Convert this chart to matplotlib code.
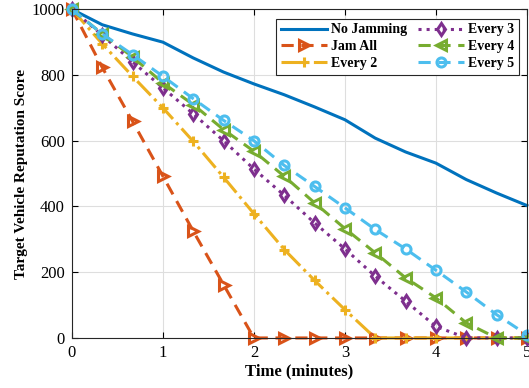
import numpy as np
import matplotlib
matplotlib.use("Agg")
import matplotlib.pyplot as plt

plt.rcParams['font.family'] = ['Liberation Serif', 'DejaVu Serif']

# Time samples, every 20 seconds
time_min = np.arange(16) / 3.0

no_jamming = [1000, 953, 925, 900, 852, 809, 773, 740, 703, 664, 608, 566, 532, 482, 441, 403]
jam_all = [1000, 823, 659, 492, 325, 162, 0, 0, 0, 0, 0, 0, 0, 0, 0, 0]
every_2 = [1000, 895, 796, 700, 598, 489, 378, 269, 175, 86, 0, 0, 0, 0, 0, 0]
every_3 = [1000, 921, 840, 761, 682, 600, 514, 434, 350, 271, 188, 112, 35, 0, 0, 0]
every_4 = [1000, 925, 855, 776, 710, 634, 568, 492, 411, 333, 259, 183, 122, 46, 0, 0]
every_5 = [1000, 925, 862, 796, 728, 662, 600, 525, 461, 396, 330, 271, 206, 140, 71, 10]

fig = plt.figure(figsize=(5.29, 3.88), dpi=100)
ax = fig.add_axes([0.136, 0.129, 0.86, 0.847])

mk = dict(markerfacecolor='none', markeredgewidth=2.2, markersize=6.5, clip_on=False)

ax.plot(time_min, no_jamming, '-', color='#0072BD', lw=2.2, label='No Jamming', clip_on=False)
ax.plot(time_min, jam_all, color='#D95319', lw=2.2, ls=(0, (4, 2.5)), marker='>', label='Jam All', **mk)
ax.plot(time_min, every_2, '-.', color='#EDB120', lw=2.2, marker='+', label='Every 2', **mk)
ax.plot(time_min, every_3, ':', color='#7E2F8E', lw=2.2, marker='d', label='Every 3', **mk)
ax.plot(time_min, every_4, color='#77AC30', lw=2.2, ls=(0, (4, 2.5)), marker='<', label='Every 4', **mk)
ax.plot(time_min, every_5, color='#4DBEEE', lw=2.2, ls=(0, (4, 2.5)), marker='o', label='Every 5', **mk)

ax.set_xlim(0, 5)
ax.set_ylim(0, 1000)
ax.set_xticks(range(6))
ax.set_yticks(range(0, 1001, 200))
ax.tick_params(direction='in', top=True, right=True, labelsize=12, length=4, width=0.8, pad=5)
ax.grid(True, color='#dedede', lw=0.8)
ax.set_axisbelow(True)
for s in ax.spines.values():
    s.set_linewidth(0.8)
    s.set_color('#262626')

ax.set_xlabel('Time (minutes)', fontsize=12, fontweight='bold', labelpad=2)
ax.set_ylabel('Target Vehicle Reputation Score', fontsize=11, fontweight='bold', labelpad=3)

leg = ax.legend(ncol=2, loc='upper right', bbox_to_anchor=(0.983, 0.972), borderaxespad=0,
                fancybox=False, framealpha=1, edgecolor='#262626', handlelength=3.3,
                columnspacing=0.8, handletextpad=0.3, labelspacing=0.28, borderpad=0.35,
                prop={'weight': 'bold', 'size': 10})
leg.get_frame().set_linewidth(0.8)

fig.savefig('out.png', dpi=100)
